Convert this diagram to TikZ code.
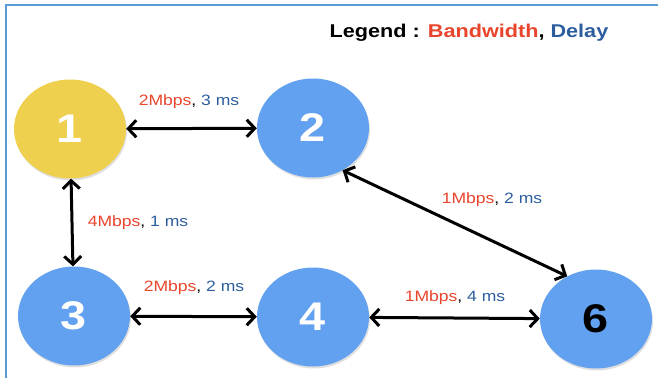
\documentclass[tikz,border=0pt]{standalone}
\usepackage{fontspec}
\setmainfont[FakeStretch=1.17]{Liberation Sans}
\usetikzlibrary{arrows.meta, shapes.geometric, shadows}
\definecolor{nodeblue}{HTML}{62A0F0}
\definecolor{nodeyellow}{HTML}{EFCF4E}
\definecolor{bwred}{HTML}{E8452C}
\definecolor{delayblue}{HTML}{2C5E9E}
\definecolor{frameblue}{HTML}{5B9BD5}

\begin{document}
\begin{tikzpicture}[x=1pt, y=-1pt, >={Straight Barb[length=8pt, width=17pt]},
  station/.style={ellipse, fill=nodeblue, minimum width=112pt, minimum height=99pt, inner sep=0pt, text=white,
    font=\fontsize{40}{40}\selectfont\bfseries, drop shadow={opacity=0.25, shadow xshift=1pt, shadow yshift=-2pt}},
  link/.style={<->, line width=3pt},
  cost/.style={font=\fontsize{15}{15}\selectfont}]
      \useasboundingbox (0,0) rectangle (658,378);
      \draw[frameblue, line width=2pt] (6,378) -- (6,5) -- (658,5);

      % Nodes (ellipses)
      \node[station, fill=nodeyellow] (n1) at (70,129) {1};
      \node[station] (n2) at (313,128) {2};
      \node[station] (n3) at (74,316) {3};
      \node[station] (n4) at (313,317) {4};
      \node[station, text=black] (n6) at (596,319) {6};

      % Arrows
      \draw[link] (n1) -- (n2);
      \draw[link] (n1) -- (n3);
      \draw[link] (n3) -- (n4);
      \draw[link] (n4) -- (n6);
      \draw[link] (n2.-55) -- (n6.124);

      % Link labels
      \node[cost] (c12) at (189,102) {\textcolor{bwred}{2Mbps}, \textcolor{delayblue}{3 ms}};
      \node[cost] (c13) at (138,223) {\textcolor{bwred}{4Mbps}, \textcolor{delayblue}{1 ms}};
      \node[cost] (c34) at (194,288) {\textcolor{bwred}{2Mbps}, \textcolor{delayblue}{2 ms}};
      \node[cost] (c46) at (455,298) {\textcolor{bwred}{1Mbps}, \textcolor{delayblue}{4 ms}};
      \node[cost] (c26) at (492,200) {\textcolor{bwred}{1Mbps}, \textcolor{delayblue}{2 ms}};

      % Legend
      \node[font=\fontsize{18.5}{18.5}\selectfont\bfseries] (legend) at (469,33) {Legend : \textcolor{bwred}{Bandwidth}, \textcolor{delayblue}{Delay}};
\end{tikzpicture}
\end{document}
